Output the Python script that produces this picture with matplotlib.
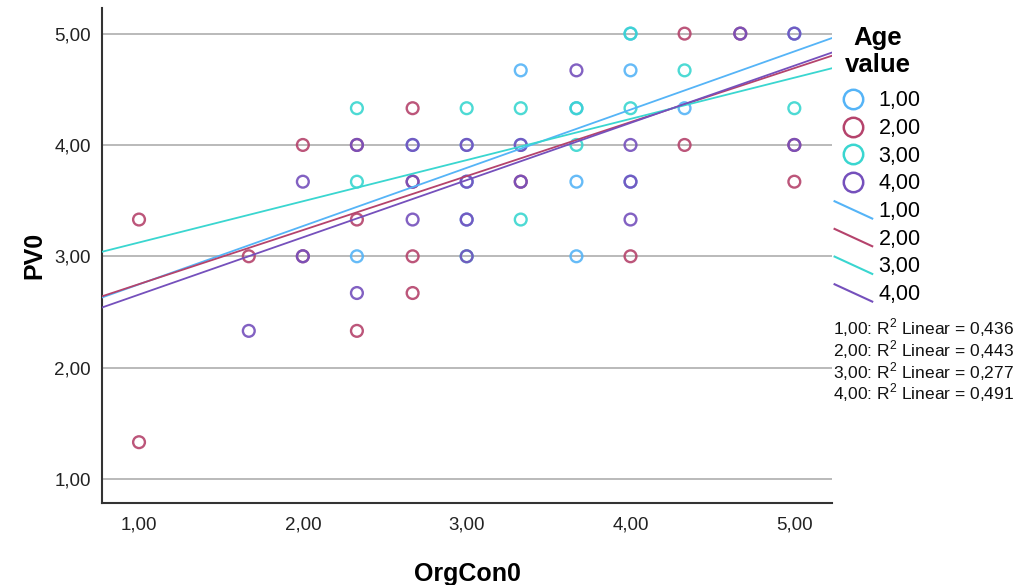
import matplotlib
matplotlib.use("Agg")
import matplotlib.pyplot as plt
import numpy as np
from matplotlib.lines import Line2D
from matplotlib.legend_handler import HandlerBase

plt.rcParams["font.family"] = ["Liberation Sans", "DejaVu Sans"]
plt.rcParams["mathtext.fontset"] = "custom"
plt.rcParams["mathtext.rm"] = "Liberation Sans"

# ----- data -----
groups = ["1,00", "2,00", "3,00", "4,00"]
colors = ["#55b4f7", "#b5436c", "#3ad6d0", "#7550bc"]

g1_x = [2.33, 3.33, 3.67, 3.67, 4.00, 4.33, 2.67, 3.00, 3.00, 3.33, 4.00, 5.00, 3.00, 3.67, 4.00]
g1_y = [3.00, 4.67, 3.67, 3.00, 4.67, 4.33, 4.00, 4.00, 3.33, 4.00, 3.67, 5.00, 3.67, 4.33, 5.00]

g2_x = [1.00, 1.00, 1.67, 2.00, 2.33, 2.33, 2.67, 2.67, 2.67, 4.00, 4.33, 4.33, 5.00, 2.00, 5.00,
        2.33, 2.67, 3.33, 4.67]
g2_y = [3.33, 1.33, 3.00, 4.00, 3.33, 2.33, 4.33, 3.00, 2.67, 3.00, 5.00, 4.00, 3.67, 3.00, 4.00,
        4.00, 3.67, 3.67, 5.00]

g3_x = [2.33, 3.33, 2.33, 3.00, 3.00, 3.33, 3.67, 3.67, 4.00, 4.00, 4.33, 5.00]
g3_y = [4.33, 3.33, 3.67, 4.33, 3.00, 4.33, 4.33, 4.00, 5.00, 4.33, 4.67, 4.33]

g4_x = [1.67, 2.00, 2.33, 2.67, 3.67, 4.00, 4.67, 2.33, 2.67, 3.33, 2.67, 3.00, 3.00, 3.00, 3.33,
        4.00, 4.00, 5.00, 2.00, 5.00, 3.00]
g4_y = [2.33, 3.67, 2.67, 3.33, 4.67, 3.33, 5.00, 4.00, 3.67, 3.67, 4.00, 4.00, 3.67, 3.33, 4.00,
        4.00, 3.67, 5.00, 3.00, 4.00, 3.00]

xs_all = [g1_x, g2_x, g3_x, g4_x]
ys_all = [g1_y, g2_y, g3_y, g4_y]

# fitted lines (intercept, slope)
intercepts = [2.225, 2.265, 2.754, 2.142]
slopes = [0.523, 0.485, 0.370, 0.514]
r2_values = ["0,436", "0,443", "0,277", "0,491"]

y_ticks = [1, 2, 3, 4, 5]
x_ticks = [1, 2, 3, 4, 5]


class SlopedLine(HandlerBase):
    # legend key drawn as a short falling line, like the SPSS output
    def create_artists(self, legend, orig_handle, xdescent, ydescent,
                       width, height, fontsize, trans):
        x0, x1 = -xdescent, -xdescent + width
        y0, y1 = -ydescent + height * 1.05, -ydescent - height * 0.1
        ln = Line2D([x0, x1], [y0, y1], color=orig_handle.get_color(),
                    linewidth=orig_handle.get_linewidth())
        ln.set_transform(trans)
        return [ln]


fig = plt.figure(figsize=(10.19, 5.85), dpi=100)
ax = fig.add_axes([0.1001, 0.1402, 0.7164, 0.8461])

ax.set_xlim(0.774, 5.23)
ax.set_ylim(0.784, 5.23)

for xs, ys, col in zip(xs_all, ys_all, colors):
    ax.scatter(xs, ys, s=72, facecolors="none", edgecolors=col,
               linewidths=1.7, alpha=0.9, zorder=3)

xl = np.array(ax.get_xlim())
for b0, b1, col in zip(intercepts, slopes, colors):
    ax.plot(xl, b0 + b1 * xl, color=col, linewidth=1.3, zorder=4)

ax.set_yticks(y_ticks)
ax.set_yticklabels([f"{v:.2f}".replace(".", ",") for v in y_ticks])
ax.set_xticks(x_ticks)
ax.set_xticklabels([f"{v:.2f}".replace(".", ",") for v in x_ticks])
ax.tick_params(axis="both", length=0, labelsize=13.5, colors="#222222")
ax.tick_params(axis="y", pad=8)
ax.tick_params(axis="x", pad=10)

ax.yaxis.grid(True, color="#b4b4b4", linewidth=1.3, zorder=0)
ax.set_axisbelow(True)
for side in ["top", "right"]:
    ax.spines[side].set_visible(False)
for side in ["left", "bottom"]:
    ax.spines[side].set_color("#333333")
    ax.spines[side].set_linewidth(1.5)

ax.set_xlabel("OrgCon0", fontsize=18, fontweight="bold", labelpad=20)
ax.set_ylabel("PV0", fontsize=18, fontweight="bold", labelpad=6)

# ----- legend -----
marker_handles = [Line2D([], [], linestyle="none", marker="o", markersize=14,
                         markerfacecolor="none", markeredgecolor=c,
                         markeredgewidth=1.8) for c in colors]
line_handles = [Line2D([], [], color=c, linewidth=1.5) for c in colors]
handler_map = {h: SlopedLine() for h in line_handles}

leg = ax.legend(marker_handles + line_handles, groups + groups,
                handler_map=handler_map,
                loc="upper left", bbox_to_anchor=(0.819, 0.955),
                bbox_transform=fig.transFigure, frameon=False,
                fontsize=15.5, title="Age\nvalue",
                title_fontproperties={"size": 18.5, "weight": "bold"},
                handlelength=1.75, handletextpad=0.3, labelspacing=0.31,
                borderaxespad=0, borderpad=0)
leg.get_title().set_linespacing(1.15)
leg.get_title().set_multialignment("center")
# extra gap between the title and the first entry
leg._legend_box.sep = 9.5

for i, (g, r2) in enumerate(zip(groups, r2_values)):
    fig.text(0.8175, 1 - (328 + i * 21.7) / 585,
             f"{g}: R$^2$ Linear = {r2}",
             fontsize=12.5, va="center", ha="left", color="#111111")

fig.savefig("out.png", dpi=100)
